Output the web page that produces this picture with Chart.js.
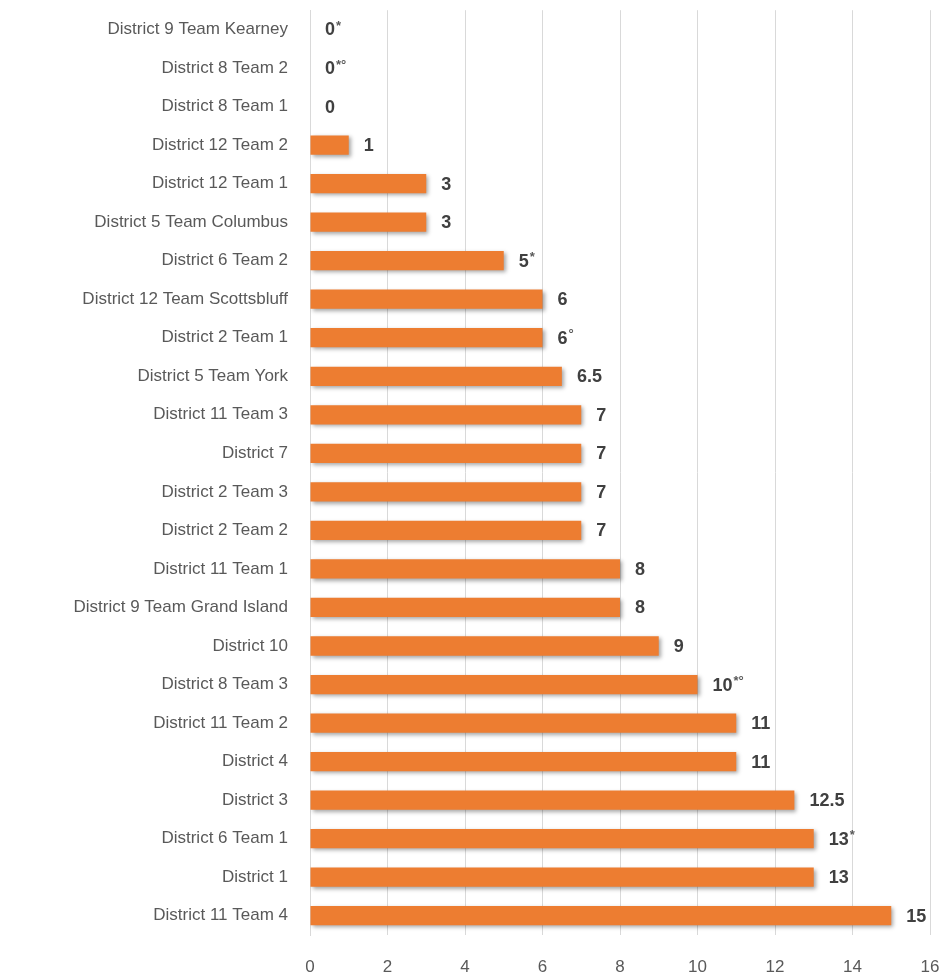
<!DOCTYPE html>
<html>
<head>
<meta charset="utf-8">
<script src="https://cdn.jsdelivr.net/npm/chart.js@4"></script>
<style>
  html, body { margin: 0; padding: 0; background: #fff; }
  #wrap { width: 947px; height: 980px; }
</style>
</head>
<body>
<div id="wrap"><canvas id="chart" width="947" height="980"></canvas></div>
<script>
// teams, top to bottom as shown
const teams = [
    'District 9 Team Kearney', 'District 8 Team 2', 'District 8 Team 1', 'District 12 Team 2',
    'District 12 Team 1', 'District 5 Team Columbus', 'District 6 Team 2', 'District 12 Team Scottsbluff',
    'District 2 Team 1', 'District 5 Team York', 'District 11 Team 3', 'District 7',
    'District 2 Team 3', 'District 2 Team 2', 'District 11 Team 1', 'District 9 Team Grand Island',
    'District 10', 'District 8 Team 3', 'District 11 Team 2', 'District 4',
    'District 3', 'District 6 Team 1', 'District 1', 'District 11 Team 4'
];
const scores = [0, 0, 0, 1, 3, 3, 5, 6, 6, 6.5, 7, 7, 7, 7, 8, 8, 9, 10, 11, 11, 12.5, 13, 13, 15];
// little marks printed after some of the values
const marks = ['*', '*°', '', '', '', '', '*', '', '°', '', '', '', '', '', '', '', '', '*°', '', '', '', '*', '', ''];
const xTicks = [0, 2, 4, 6, 8, 10, 12, 14, 16];

const font = "'Liberation Sans', Arial, sans-serif";

// soft drop shadow under the bars, like the original
const barShadow = {
    id: 'barShadow',
    beforeDatasetsDraw(chart) {
        const ctx = chart.ctx;
        ctx.save();
        ctx.shadowColor = 'rgba(0,0,0,0.35)';
        ctx.shadowBlur = 4;
        ctx.shadowOffsetX = 2;
        ctx.shadowOffsetY = 2;
    },
    afterDatasetsDraw(chart) {
        chart.ctx.restore();
    }
};

// value labels at the end of each bar
const valueLabels = {
    id: 'valueLabels',
    afterDraw(chart) {
        const ctx = chart.ctx;
        const meta = chart.getDatasetMeta(0);
        ctx.save();
        ctx.textBaseline = 'middle';
        ctx.textAlign = 'left';
        meta.data.forEach((bar, i) => {
            let x = bar.x + 15;
            const y = bar.y + 1;
            const txt = String(scores[i]);
            ctx.font = 'bold 18px ' + font;
            ctx.fillStyle = '#404040';
            ctx.fillText(txt, x, y);
            x += ctx.measureText(txt).width + 1;
            if (marks[i]) {
                ctx.font = 'bold 13px ' + font;
                ctx.fillStyle = '#595959';
                ctx.fillText(marks[i], x, y - 4);
            }
        });
        ctx.restore();
    }
};

new Chart(document.getElementById('chart').getContext('2d'), {
    type: 'bar',
    data: {
        labels: teams,
        datasets: [{
            data: scores,
            backgroundColor: '#ED7D31',
            borderWidth: 0,
            barPercentage: 0.5,
            categoryPercentage: 1
        }]
    },
    options: {
        indexAxis: 'y',
        responsive: false,
        animation: false,
        layout: { padding: { top: 10, right: 17, left: 0, bottom: 0 } },
        plugins: {
            legend: { display: false },
            tooltip: { enabled: false }
        },
        scales: {
            x: {
                min: 0,
                max: 16,
                afterBuildTicks: axis => { axis.ticks = xTicks.map(v => ({ value: v })); },
                afterFit: axis => { axis.height = 45; },
                grid: { color: '#d9d9d9', lineWidth: 1, drawTicks: true, tickLength: 20, tickColor: 'rgba(0,0,0,0)' },
                border: { display: false },
                ticks: { color: '#595959', font: { family: font, size: 17 }, padding: 2 }
            },
            y: {
                afterFit: axis => { axis.width = 310; },
                grid: { display: false, drawTicks: true, tickLength: 22, tickColor: 'rgba(0,0,0,0)' },
                border: { display: true, color: '#d9d9d9', width: 1 },
                ticks: { color: '#595959', font: { family: font, size: 17 }, padding: 0 }
            }
        }
    },
    plugins: [barShadow, valueLabels]
});
</script>
</body>
</html>
